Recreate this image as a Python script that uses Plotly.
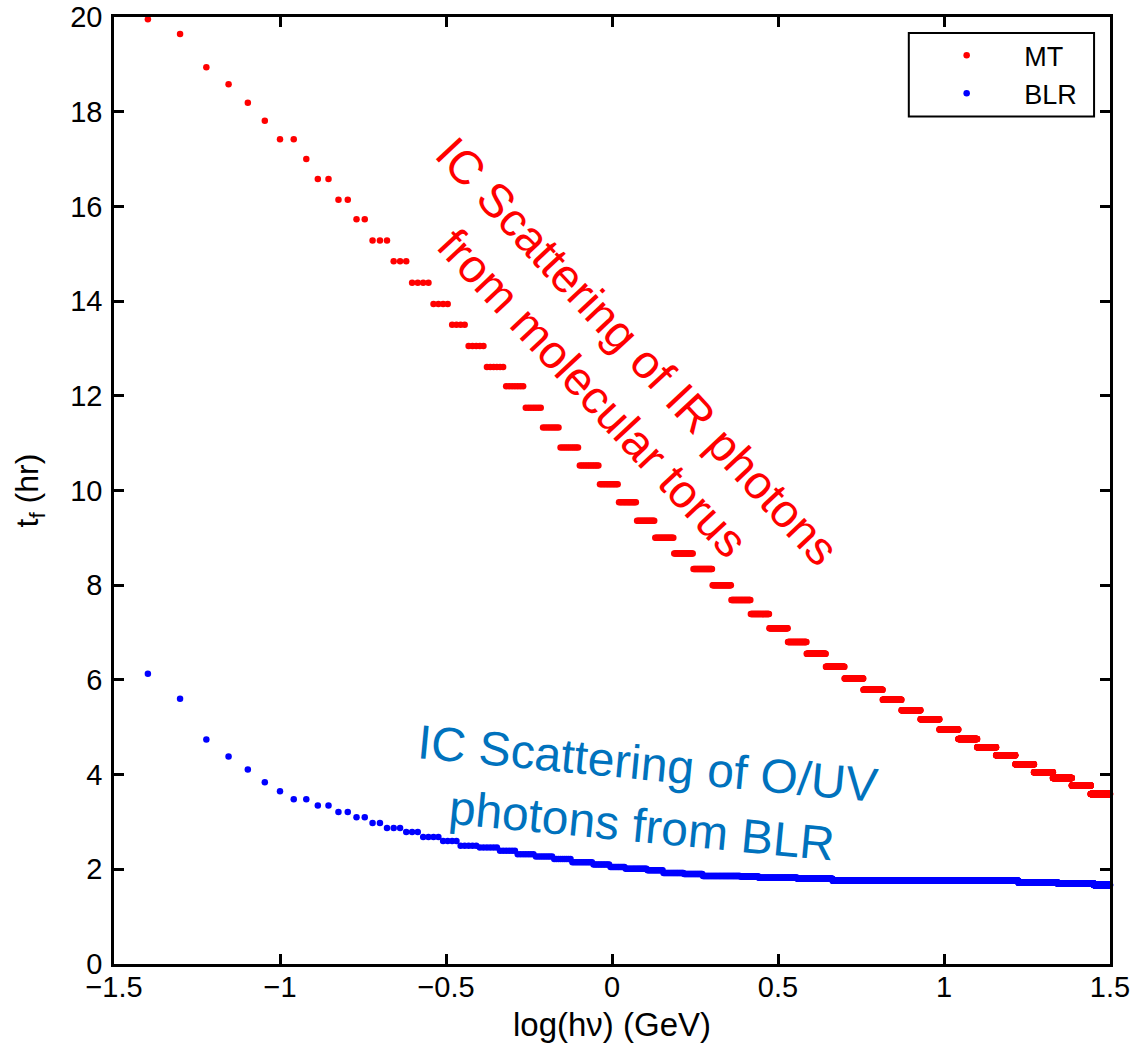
import numpy as np
import plotly.graph_objects as go

# Photon energy grid (GeV) shared by both curves
energy_gev = np.arange(4, 3163) / 100.0
log_hnu = np.log10(energy_gev)

# MT (molecular torus): step levels of t_f (hr) and log(hν) where each level begins
mt_step_start = [-1.438, -1.347, -1.257, -1.187, -1.124, -1.070, -1.019, -0.940,
                 -0.901, -0.835, -0.780, -0.729, -0.666, -0.609, -0.545, -0.490,
                 -0.440, -0.385, -0.326, -0.267, -0.208, -0.156, -0.098, -0.040,
                 0.019, 0.073, 0.129, 0.187, 0.244, 0.302, 0.358, 0.417,
                 0.473, 0.530, 0.586, 0.644, 0.700, 0.757, 0.815, 0.872,
                 0.929, 0.986, 1.043, 1.100, 1.157, 1.215, 1.271, 1.328,
                 1.385, 1.442]
mt_tf = [19.95, 19.64, 18.94, 18.58, 18.19, 17.81, 17.42, 17.00,
         16.58, 16.14, 15.73, 15.28, 14.84, 14.39, 13.94, 13.50,
         13.05, 12.61, 12.20, 11.75, 11.33, 10.91, 10.53, 10.13,
         9.75, 9.36, 9.00, 8.67, 8.34, 8.00, 7.69, 7.39,
         7.09, 6.80, 6.55, 6.28, 6.03, 5.79, 5.58, 5.36,
         5.17, 4.95, 4.75, 4.58, 4.41, 4.22, 4.05, 3.93,
         3.77, 3.59]

# BLR (broad line region): step levels of t_f (hr) and where each begins
blr_step_start = [-1.438, -1.347, -1.257, -1.187, -1.124, -1.070, -1.019, -0.979,
                  -0.901, -0.835, -0.780, -0.729, -0.684, -0.625, -0.578, -0.515,
                  -0.464, -0.407, -0.340, -0.292, -0.232, -0.177, -0.120, -0.060,
                  -0.006, 0.040, 0.106, 0.154, 0.215, 0.272, 0.386, 0.441,
                  0.558, 0.664, 1.224, 1.342, 1.451]
blr_tf = [6.13, 5.60, 4.74, 4.38, 4.11, 3.84, 3.65, 3.48,
          3.35, 3.21, 3.10, 2.98, 2.87, 2.79, 2.68, 2.60,
          2.50, 2.46, 2.39, 2.32, 2.27, 2.22, 2.15, 2.10,
          2.05, 2.01, 1.98, 1.92, 1.90, 1.86, 1.85, 1.82,
          1.80, 1.76, 1.72, 1.70, 1.67]

x_ticks = [-1.5, -1.0, -0.5, 0.0, 0.5, 1.0, 1.5]
x_ticktext = ["\u22121.5", "\u22121", "\u22120.5", "0", "0.5", "1", "1.5"]
y_ticks = list(range(0, 21, 2))


def hold_levels(x, starts, levels):
    idx = np.searchsorted(np.asarray(starts), x, side="right") - 1
    idx = np.clip(idx, 0, len(levels) - 1)
    return np.asarray(levels)[idx]


mt_y = hold_levels(log_hnu, mt_step_start, mt_tf)
blr_y = hold_levels(log_hnu, blr_step_start, blr_tf)

FONT = "Liberation Sans, Arial, Helvetica, sans-serif"
PAD = "\u00a0" * 5  # gap between legend symbol and its label

fig = go.Figure()
fig.add_trace(go.Scatter(x=log_hnu, y=mt_y, mode="markers", name=PAD + "MT",
                         marker=dict(color="#ff0000", size=6.5), cliponaxis=False))
fig.add_trace(go.Scatter(x=log_hnu, y=blr_y, mode="markers", name=PAD + "BLR",
                         marker=dict(color="#0000ff", size=6.5), cliponaxis=False))

axis_common = dict(showline=True, linecolor="black", linewidth=2.5, mirror="ticks",
                   ticks="inside", ticklen=10, tickwidth=2.5, tickcolor="black",
                   showgrid=False, zeroline=False, automargin=False,
                   tickfont=dict(family=FONT, size=29, color="black"))

fig.update_xaxes(range=[-1.5, 1.5], tickvals=x_ticks, ticktext=x_ticktext,
                 title=dict(text="log(h\u03bd) (GeV)",
                            font=dict(family=FONT, size=33, color="black"),
                            standoff=12),
                 ticklabelstandoff=-5, **axis_common)
fig.update_yaxes(range=[0, 20], tickvals=y_ticks,
                 title=dict(text="t<sub>f</sub> (hr)", font=dict(family=FONT, size=32, color="black"),
                            standoff=22),
                 ticklabelstandoff=3, **axis_common)

fig.add_annotation(x=0.01, y=12.5, xref="x", yref="y", showarrow=False,
                   text="IC Scattering of IR photons<br>from molecular torus",
                   textangle=47, font=dict(family=FONT, size=47, color="#ff0000"))
fig.add_annotation(x=0.10, y=3.58, xref="x", yref="y", showarrow=False,
                   text="IC Scattering of O/UV<br>photons from BLR",
                   textangle=5.5, font=dict(family=FONT, size=48, color="#0072BD"))

# legend frame
fig.add_shape(type="rect", xref="paper", yref="paper",
              x0=0.798, x1=0.984, y0=0.895, y1=0.983,
              line=dict(color="black", width=2), fillcolor="rgba(0,0,0,0)")

fig.update_layout(
    width=1139, height=1044,
    margin=dict(l=114, r=29, t=17, b=80),
    plot_bgcolor="white", paper_bgcolor="white",
    showlegend=True,
    legend=dict(x=0.836, y=0.985, xanchor="left", yanchor="top",
                bgcolor="rgba(0,0,0,0)", borderwidth=0, itemwidth=30,
                font=dict(family=FONT, size=27, color="black")),
)

fig.write_html("out.html")
